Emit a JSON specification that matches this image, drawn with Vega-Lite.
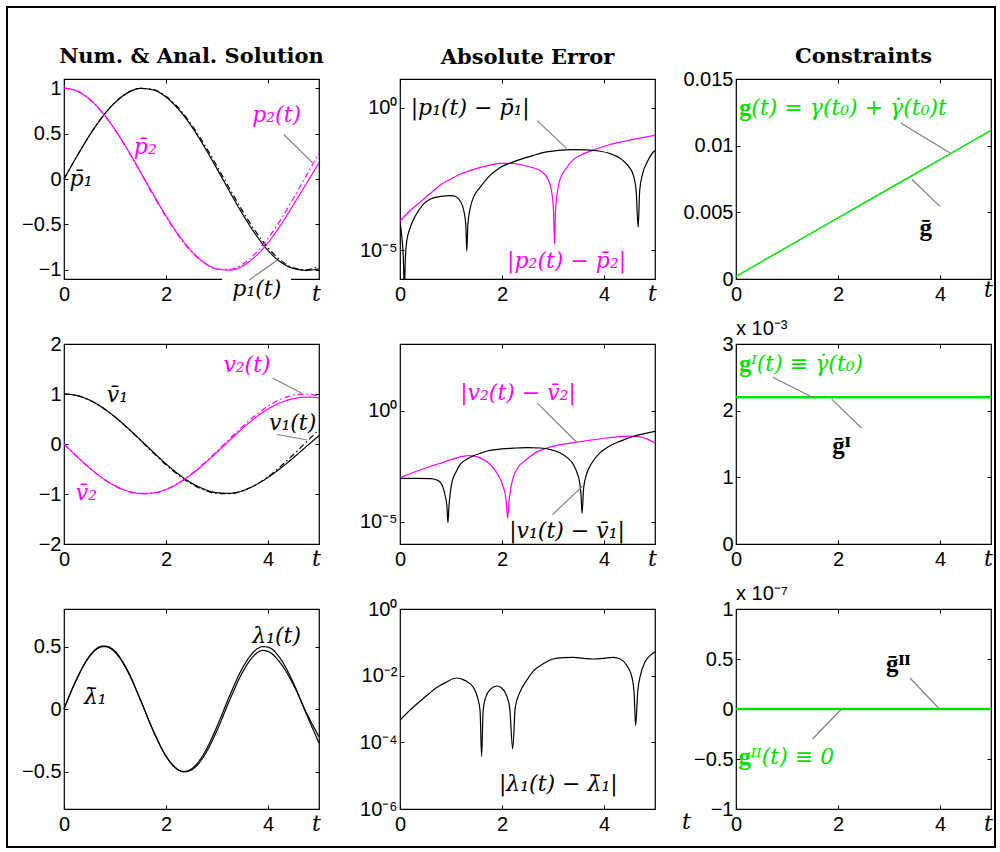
{
"$schema":"https://vega.github.io/schema/vega-lite/v6.json",
"background":"white",
"padding":5,
"columns":3,
"spacing":{"row":65,"column":81},
"bounds":"flush",
"align":"all",
"config":{
 "view":{"stroke":"black","strokeWidth":1.2},
 "axis":{"domain":false,"grid":false,"ticks":true,"tickSize":-4,"tickColor":"black","tickWidth":1,"labelFont":"Liberation Sans","labelFontSize":20,"labelColor":"black","labelFlush":false,"labelOverlap":false,"titleFont":"DejaVu Serif","titleFontStyle":"italic","titleFontWeight":"normal","titleFontSize":22,"titleColor":"black"},
 "axisBottom":{"labelPadding":9,"titleX":252,"titleY":21,"titleAlign":"center","titleBaseline":"alphabetic"},
 "axisLeft":{"labelPadding":7},
 "title":{"font":"DejaVu Serif","fontWeight":"bold","fontSize":21,"color":"black","baseline":"alphabetic","offset":11,"anchor":"middle","frame":"group"},
 "text":{"font":"DejaVu Serif","fontStyle":"italic","fontSize":22,"align":"left","baseline":"middle"}
},
"concat":[
{"width":255,"height":200,
 "title":{"text":"Num. & Anal. Solution"},
 "encoding":{"x":{"field":"t","type":"quantitative","scale":{"domain":[0,5],"nice":false,"zero":false},"axis":null},"y":{"field":"v","type":"quantitative","scale":{"domain":[-1.1,1.1],"nice":false,"zero":false},"axis":null}},
 "layer":[
  {"data":{"values":[{"t":1,"v":0}]},"mark":{"type":"point","opacity":0},"encoding":{"x":{"field":"t","type":"quantitative","scale":{"domain":[0,5],"nice":false,"zero":false},"axis":{"orient":"bottom","values":[0,2],"title":"t"}},"y":{"field":"v","type":"quantitative","scale":{"domain":[-1.1,1.1],"nice":false,"zero":false},"axis":{"orient":"left","values":[-1,-0.5,0,0.5,1],"labelExpr":"format(datum.value,'~g')","title":null}}}},
  {"data":{"values":[{"t":1,"v":0}]},"mark":{"type":"point","opacity":0},"encoding":{"x":{"field":"t","type":"quantitative","scale":{"domain":[0,5],"nice":false,"zero":false},"axis":{"orient":"top","values":[0,2,4],"labels":false,"title":null}},"y":{"field":"v","type":"quantitative","scale":{"domain":[-1.1,1.1],"nice":false,"zero":false},"axis":{"orient":"right","values":[-1,-0.5,0,0.5,1],"labels":false,"title":null}}}},
  {"data":{"values":[{"t":3.1,"t2":4.45,"v":-1.075,"v2":-1.36}]},"mark":{"type":"rect","color":"white"},"encoding":{"x2":{"field":"t2"},"y2":{"field":"v2"}}},
  {"data":{"values":[
   {"t":0,"n1":0,"n2":1,"a1":0,"a2":1},
   {"t":0.25,"n1":0.2474,"n2":0.9694,"a1":0.2474,"a2":0.9689},
   {"t":0.5,"n1":0.479,"n2":0.8786,"a1":0.4794,"a2":0.8776},
   {"t":0.75,"n1":0.6808,"n2":0.7337,"a1":0.6816,"a2":0.7317},
   {"t":1,"n1":0.8407,"n2":0.5438,"a1":0.8415,"a2":0.5403},
   {"t":1.25,"n1":0.9488,"n2":0.3208,"a1":0.949,"a2":0.3153},
   {"t":1.5,"n1":0.9962,"n2":0.0782,"a1":0.9975,"a2":0.0707},
   {"t":1.75,"n1":0.98,"n2":-0.1687,"a1":0.984,"a2":-0.1782},
   {"t":2,"n1":0.9013,"n2":-0.4051,"a1":0.9093,"a2":-0.4161},
   {"t":2.25,"n1":0.7651,"n2":-0.6177,"a1":0.7781,"a2":-0.6282},
   {"t":2.5,"n1":0.5795,"n2":-0.7921,"a1":0.5985,"a2":-0.8011},
   {"t":2.75,"n1":0.3557,"n2":-0.9185,"a1":0.3817,"a2":-0.9243},
   {"t":3,"n1":0.1111,"n2":-0.99,"a1":0.1411,"a2":-0.99},
   {"t":3.25,"n1":-0.1412,"n2":-1.0021,"a1":-0.1082,"a2":-0.9941},
   {"t":3.5,"n1":-0.3848,"n2":-0.9585,"a1":-0.3508,"a2":-0.9365},
   {"t":3.75,"n1":-0.6036,"n2":-0.8536,"a1":-0.5716,"a2":-0.8206},
   {"t":4,"n1":-0.7858,"n2":-0.7006,"a1":-0.7568,"a2":-0.6536},
   {"t":4.25,"n1":-0.915,"n2":-0.5061,"a1":-0.895,"a2":-0.4461},
   {"t":4.5,"n1":-0.9845,"n2":-0.2828,"a1":-0.9775,"a2":-0.2108},
   {"t":4.75,"n1":-1.0043,"n2":-0.0524,"a1":-0.9993,"a2":0.0376},
   {"t":5,"n1":-0.9889,"n2":0.1767,"a1":-0.9589,"a2":0.2837}]},
   "transform":[{"fold":["n1","n2","a1","a2"],"as":["k","v"]}],
   "mark":{"type":"line","interpolate":"monotone","strokeWidth":1.2},
   "encoding":{"color":{"field":"k","type":"nominal","scale":{"domain":["n1","n2","a1","a2"],"range":["black","#ff00ff","black","#ff00ff"]},"legend":null},
    "strokeDash":{"field":"k","type":"nominal","scale":{"domain":["n1","n2","a1","a2"],"range":[[1,0],[1,0],[6,3,1.5,3],[6,3,1.5,3]]},"legend":null}}},
  {"data":{"values":[{"t":4.31,"v":0.49,"t2":4.87,"v2":0.18},{"t":3.63,"v":-1.11,"t2":4.18,"v2":-0.895}]},"mark":{"type":"rule","color":"#808080","strokeWidth":1.2},"encoding":{"x2":{"field":"t2"},"y2":{"field":"v2"}}},
  {"data":{"values":[{"t":0.11,"v":0,"label":"p\u0304\u2081"},{"t":3.3,"v":-1.21,"label":"p\u2081(t)"}]},"mark":{"type":"text","color":"black"},"encoding":{"text":{"field":"label"}}},
  {"data":{"values":[{"t":1.37,"v":0.35,"label":"p\u0304\u2082"},{"t":3.69,"v":0.7,"label":"p\u2082(t)"}]},"mark":{"type":"text","color":"#ff00ff"},"encoding":{"text":{"field":"label"}}}
 ],
 "resolve":{"axis":{"x":"independent","y":"independent"}}
},
{"width":255,"height":200,
 "title":{"text":"Absolute Error"},
 "encoding":{"x":{"field":"t","type":"quantitative","scale":{"domain":[0,5],"nice":false,"zero":false},"axis":null},"y":{"field":"v","type":"quantitative","scale":{"type":"log","domain":[1e-6,10],"nice":false},"axis":null}},
 "layer":[
  {"data":{"values":[{"t":1,"v":0.001}]},"mark":{"type":"point","opacity":0},"encoding":{"x":{"field":"t","type":"quantitative","scale":{"domain":[0,5],"nice":false,"zero":false},"axis":{"orient":"bottom","values":[0,2,4],"title":"t"}},"y":{"field":"v","type":"quantitative","scale":{"type":"log","domain":[1e-6,10],"nice":false},"axis":{"orient":"left","values":[1e-5,1],"labelExpr":"datum.value > 0.1 ? '10\u2070' : '10\u207b\u2075'","title":null}}}},
  {"data":{"values":[{"t":1,"v":0.001}]},"mark":{"type":"point","opacity":0},"encoding":{"x":{"field":"t","type":"quantitative","scale":{"domain":[0,5],"nice":false,"zero":false},"axis":{"orient":"top","values":[0,2,4],"labels":false,"title":null}},"y":{"field":"v","type":"quantitative","scale":{"type":"log","domain":[1e-6,10],"nice":false},"axis":{"orient":"right","values":[1e-5,1],"labels":false,"title":null}}}},
  {"data":{"values":[{"t":0,"v":1.05e-4},{"t":0.2,"v":2.5e-4},{"t":0.4,"v":5e-4},{"t":0.6,"v":1e-3},{"t":0.8,"v":2.04e-3},{"t":1,"v":3.16e-3},{"t":1.2,"v":4.8e-3},{"t":1.45,"v":6.9e-3},{"t":1.7,"v":9.1e-3},{"t":1.98,"v":1.12e-2},{"t":2.2,"v":1.12e-2},{"t":2.37,"v":1e-2},{"t":2.6,"v":7.9e-3},{"t":2.76,"v":6e-3},{"t":2.9,"v":3.16e-3},{"t":2.97,"v":1.26e-3},{"t":3.01,"v":2.5e-4},{"t":3.03,"v":1.7e-5},{"t":3.05,"v":2.5e-4},{"t":3.09,"v":1.26e-3},{"t":3.14,"v":3.16e-3},{"t":3.25,"v":7.1e-3},{"t":3.4,"v":1.51e-2},{"t":3.6,"v":2.4e-2},{"t":3.83,"v":3.47e-2},{"t":4.1,"v":5e-2},{"t":4.4,"v":6.6e-2},{"t":4.7,"v":8.5e-2},{"t":5,"v":0.107}]},
   "mark":{"type":"line","interpolate":"monotone","strokeWidth":1.2,"color":"#ff00ff","clip":true}},
  {"data":{"values":[{"t":0,"v":1e-4},{"t":0.04,"v":2.5e-5},{"t":0.07,"v":3.2e-6},{"t":0.085,"v":1e-7},{"t":0.1,"v":3.2e-6},{"t":0.13,"v":2e-5},{"t":0.2,"v":6.3e-5},{"t":0.3,"v":1.6e-4},{"t":0.46,"v":4.2e-4},{"t":0.6,"v":6.3e-4},{"t":0.8,"v":7.8e-4},{"t":0.99,"v":8.3e-4},{"t":1.1,"v":7.6e-4},{"t":1.18,"v":5.4e-4},{"t":1.25,"v":2.5e-4},{"t":1.29,"v":7.9e-5},{"t":1.31,"v":9.5e-6},{"t":1.33,"v":7.9e-5},{"t":1.38,"v":3.2e-4},{"t":1.45,"v":7.9e-4},{"t":1.57,"v":1.6e-3},{"t":1.75,"v":4e-3},{"t":1.96,"v":7.9e-3},{"t":2.15,"v":1.12e-2},{"t":2.35,"v":1.51e-2},{"t":2.6,"v":2.09e-2},{"t":2.87,"v":2.82e-2},{"t":3.1,"v":3.16e-2},{"t":3.39,"v":3.39e-2},{"t":3.65,"v":3.31e-2},{"t":3.9,"v":3.02e-2},{"t":4.1,"v":2.51e-2},{"t":4.35,"v":1.51e-2},{"t":4.5,"v":7.9e-3},{"t":4.58,"v":4e-3},{"t":4.63,"v":1.26e-3},{"t":4.67,"v":6.5e-5},{"t":4.7,"v":1.26e-3},{"t":4.76,"v":5e-3},{"t":4.85,"v":1.26e-2},{"t":4.98,"v":2.95e-2},{"t":5,"v":3.16e-2}]},
   "mark":{"type":"line","interpolate":"monotone","strokeWidth":1.2,"color":"black","clip":true}},
  {"data":{"values":[{"t":2.69,"v":0.35,"t2":3.27,"v2":0.0366}]},"mark":{"type":"rule","color":"#808080","strokeWidth":1.2},"encoding":{"x2":{"field":"t2"},"y2":{"field":"v2"}}},
  {"data":{"values":[{"t":0.21,"v":1,"label":"|p\u2081(t) \u2212 p\u0304\u2081|"}]},"mark":{"type":"text","color":"black"},"encoding":{"text":{"field":"label"}}},
  {"data":{"values":[{"t":2.1,"v":4.2e-6,"label":"|p\u2082(t) \u2212 p\u0304\u2082|"}]},"mark":{"type":"text","color":"#ff00ff"},"encoding":{"text":{"field":"label"}}}
 ],
 "resolve":{"axis":{"x":"independent","y":"independent"}}
},
{"width":255,"height":200,
 "title":{"text":"Constraints","offset":2},
 "encoding":{"x":{"field":"t","type":"quantitative","scale":{"domain":[0,5],"nice":false,"zero":false},"axis":null},"y":{"field":"v","type":"quantitative","scale":{"domain":[0,0.015],"nice":false,"zero":false},"axis":null}},
 "layer":[
  {"data":{"values":[{"t":1,"v":0.005}]},"mark":{"type":"point","opacity":0},"encoding":{"x":{"field":"t","type":"quantitative","scale":{"domain":[0,5],"nice":false,"zero":false},"axis":{"orient":"bottom","values":[0,2,4],"title":"t","titleY":17}},"y":{"field":"v","type":"quantitative","scale":{"domain":[0,0.015],"nice":false,"zero":false},"axis":{"orient":"left","values":[0,0.005,0.01,0.015],"labelExpr":"format(datum.value,'~g')","title":null}}}},
  {"data":{"values":[{"t":1,"v":0.005}]},"mark":{"type":"point","opacity":0},"encoding":{"x":{"field":"t","type":"quantitative","scale":{"domain":[0,5],"nice":false,"zero":false},"axis":{"orient":"top","values":[0,2,4],"labels":false,"title":null}},"y":{"field":"v","type":"quantitative","scale":{"domain":[0,0.015],"nice":false,"zero":false},"axis":{"orient":"right","values":[0,0.005,0.01,0.015],"labels":false,"title":null}}}},
  {"data":{"values":[{"t":0,"v":0.0002},{"t":1,"v":0.00239},{"t":2,"v":0.00458},{"t":3,"v":0.00677},{"t":4,"v":0.00896},{"t":5,"v":0.01115}]},"mark":{"type":"line","strokeWidth":1.5,"color":"#00e000"}},
  {"data":{"values":[{"t":3.23,"v":0.0117,"t2":4.2,"v2":0.00945},{"t":3.45,"v":0.00746,"t2":4.0,"v2":0.00545}]},"mark":{"type":"rule","color":"#808080","strokeWidth":1.2},"encoding":{"x2":{"field":"t2"},"y2":{"field":"v2"}}},
  {"data":{"values":[{"t":0.06,"v":0.01283,"label":"g"}]},"mark":{"type":"text","color":"#00e000","font":"Liberation Serif","fontSize":25,"fontStyle":"normal","fontWeight":"bold"},"encoding":{"text":{"field":"label"}}},
  {"data":{"values":[{"t":0.3,"v":0.01283,"label":"(t) = \u03b3(t\u2080) + \u03b3\u0307(t\u2080)t"}]},"mark":{"type":"text","color":"#00e000"},"encoding":{"text":{"field":"label"}}},
  {"data":{"values":[{"t":3.72,"v":0.00383,"label":"\u1e21"}]},"mark":{"type":"text","color":"black","font":"Liberation Serif","fontSize":25,"fontStyle":"normal","fontWeight":"bold","align":"center"},"encoding":{"text":{"field":"label"}}}
 ],
 "resolve":{"axis":{"x":"independent","y":"independent"}}
},
{"width":255,"height":200,
 "encoding":{"x":{"field":"t","type":"quantitative","scale":{"domain":[0,5],"nice":false,"zero":false},"axis":null},"y":{"field":"v","type":"quantitative","scale":{"domain":[-2,2],"nice":false,"zero":false},"axis":null}},
 "layer":[
  {"data":{"values":[{"t":1,"v":0}]},"mark":{"type":"point","opacity":0},"encoding":{"x":{"field":"t","type":"quantitative","scale":{"domain":[0,5],"nice":false,"zero":false},"axis":{"orient":"bottom","values":[0,2,4],"title":"t"}},"y":{"field":"v","type":"quantitative","scale":{"domain":[-2,2],"nice":false,"zero":false},"axis":{"orient":"left","values":[-2,-1,0,1,2],"labelExpr":"format(datum.value,'~g')","title":null}}}},
  {"data":{"values":[{"t":1,"v":0}]},"mark":{"type":"point","opacity":0},"encoding":{"x":{"field":"t","type":"quantitative","scale":{"domain":[0,5],"nice":false,"zero":false},"axis":{"orient":"top","values":[0,2,4],"labels":false,"title":null}},"y":{"field":"v","type":"quantitative","scale":{"domain":[-2,2],"nice":false,"zero":false},"axis":{"orient":"right","values":[-2,-1,0,1,2],"labels":false,"title":null}}}},
  {"data":{"values":[
   {"t":0,"n1":1.0009,"n2":0.0009,"a1":1,"a2":0},
   {"t":0.25,"n1":0.9698,"n2":-0.2458,"a1":0.9689,"a2":-0.2474},
   {"t":0.5,"n1":0.8785,"n2":-0.4769,"a1":0.8776,"a2":-0.4794},
   {"t":0.75,"n1":0.7324,"n2":-0.6776,"a1":0.7317,"a2":-0.6816},
   {"t":1,"n1":0.5408,"n2":-0.8352,"a1":0.5403,"a2":-0.8415},
   {"t":1.25,"n1":0.3203,"n2":-0.9401,"a1":0.3153,"a2":-0.949},
   {"t":1.5,"n1":0.0807,"n2":-0.9886,"a1":0.0707,"a2":-0.9975},
   {"t":1.75,"n1":-0.1622,"n2":-0.98,"a1":-0.1782,"a2":-0.984},
   {"t":2,"n1":-0.3971,"n2":-0.9088,"a1":-0.4161,"a2":-0.9093},
   {"t":2.25,"n1":-0.6072,"n2":-0.7794,"a1":-0.6282,"a2":-0.7781},
   {"t":2.5,"n1":-0.7801,"n2":-0.6048,"a1":-0.8011,"a2":-0.5985},
   {"t":2.75,"n1":-0.9033,"n2":-0.3977,"a1":-0.9243,"a2":-0.3817},
   {"t":3,"n1":-0.974,"n2":-0.1651,"a1":-0.99,"a2":-0.1411},
   {"t":3.25,"n1":-0.9861,"n2":0.0762,"a1":-0.9941,"a2":0.1082},
   {"t":3.5,"n1":-0.9362,"n2":0.3108,"a1":-0.9365,"a2":0.3508},
   {"t":3.75,"n1":-0.8236,"n2":0.5246,"a1":-0.8206,"a2":0.5716},
   {"t":4,"n1":-0.6696,"n2":0.7008,"a1":-0.6536,"a2":0.7568},
   {"t":4.25,"n1":-0.4811,"n2":0.829,"a1":-0.4461,"a2":0.895},
   {"t":4.5,"n1":-0.2738,"n2":0.9055,"a1":-0.2108,"a2":0.9775},
   {"t":4.75,"n1":-0.0514,"n2":0.9393,"a1":0.0376,"a2":0.9993},
   {"t":5,"n1":0.1667,"n2":0.9229,"a1":0.2837,"a2":0.9589}]},
   "transform":[{"fold":["n1","n2","a1","a2"],"as":["k","v"]}],
   "mark":{"type":"line","interpolate":"monotone","strokeWidth":1.2},
   "encoding":{"color":{"field":"k","type":"nominal","scale":{"domain":["n1","n2","a1","a2"],"range":["black","#ff00ff","black","#ff00ff"]},"legend":null},
    "strokeDash":{"field":"k","type":"nominal","scale":{"domain":["n1","n2","a1","a2"],"range":[[1,0],[1,0],[6,3,1.5,3],[6,3,1.5,3]]},"legend":null}}},
  {"data":{"values":[{"t":4.09,"v":1.32,"t2":4.67,"v2":1.01},{"t":4.18,"v":0.19,"t2":4.77,"v2":0.08}]},"mark":{"type":"rule","color":"#808080","strokeWidth":1.2},"encoding":{"x2":{"field":"t2"},"y2":{"field":"v2"}}},
  {"data":{"values":[{"t":0.84,"v":0.99,"label":"v\u0304\u2081"},{"t":4.02,"v":0.42,"label":"v\u2081(t)"}]},"mark":{"type":"text","color":"black"},"encoding":{"text":{"field":"label"}}},
  {"data":{"values":[{"t":3.125,"v":1.59,"label":"v\u2082(t)"},{"t":0.23,"v":-0.98,"label":"v\u0304\u2082"}]},"mark":{"type":"text","color":"#ff00ff"},"encoding":{"text":{"field":"label"}}}
 ],
 "resolve":{"axis":{"x":"independent","y":"independent"}}
},
{"width":255,"height":200,
 "encoding":{"x":{"field":"t","type":"quantitative","scale":{"domain":[0,5],"nice":false,"zero":false},"axis":null},"y":{"field":"v","type":"quantitative","scale":{"type":"log","domain":[1e-6,1000],"nice":false},"axis":null}},
 "layer":[
  {"data":{"values":[{"t":1,"v":0.001}]},"mark":{"type":"point","opacity":0},"encoding":{"x":{"field":"t","type":"quantitative","scale":{"domain":[0,5],"nice":false,"zero":false},"axis":{"orient":"bottom","values":[0,2,4],"title":"t"}},"y":{"field":"v","type":"quantitative","scale":{"type":"log","domain":[1e-6,1000],"nice":false},"axis":{"orient":"left","values":[1e-5,1],"labelExpr":"datum.value > 0.1 ? '10\u2070' : '10\u207b\u2075'","title":null}}}},
  {"data":{"values":[{"t":1,"v":0.001}]},"mark":{"type":"point","opacity":0},"encoding":{"x":{"field":"t","type":"quantitative","scale":{"domain":[0,5],"nice":false,"zero":false},"axis":{"orient":"top","values":[0,2,4],"labels":false,"title":null}},"y":{"field":"v","type":"quantitative","scale":{"type":"log","domain":[1e-6,1000],"nice":false},"axis":{"orient":"right","values":[1e-5,1],"labels":false,"title":null}}}},
  {"data":{"values":[{"t":0,"v":9.5e-4},{"t":0.3,"v":1.78e-3},{"t":0.6,"v":3.16e-3},{"t":0.78,"v":4.2e-3},{"t":1,"v":6.3e-3},{"t":1.2,"v":8.5e-3},{"t":1.37,"v":9.5e-3},{"t":1.55,"v":7.9e-3},{"t":1.76,"v":4e-3},{"t":1.9,"v":1.58e-3},{"t":2.03,"v":3.4e-4},{"t":2.08,"v":1e-4},{"t":2.11,"v":1.5e-5},{"t":2.14,"v":1e-4},{"t":2.18,"v":4e-4},{"t":2.22,"v":1e-3},{"t":2.3,"v":2.5e-3},{"t":2.48,"v":6.3e-3},{"t":2.65,"v":1.26e-2},{"t":2.88,"v":2.09e-2},{"t":3.1,"v":2.82e-2},{"t":3.4,"v":3.63e-2},{"t":3.7,"v":4.57e-2},{"t":4.05,"v":5.9e-2},{"t":4.3,"v":6.8e-2},{"t":4.51,"v":7.2e-2},{"t":4.7,"v":6.6e-2},{"t":4.85,"v":5.25e-2},{"t":5,"v":3.55e-2}]},
   "mark":{"type":"line","interpolate":"monotone","strokeWidth":1.2,"color":"#ff00ff","clip":true}},
  {"data":{"values":[{"t":0,"v":8.9e-4},{"t":0.3,"v":8.9e-4},{"t":0.6,"v":8.7e-4},{"t":0.72,"v":7.6e-4},{"t":0.8,"v":5.6e-4},{"t":0.88,"v":1.7e-4},{"t":0.92,"v":5e-5},{"t":0.94,"v":9.1e-6},{"t":0.96,"v":5e-5},{"t":1.02,"v":6.3e-4},{"t":1.1,"v":1.78e-3},{"t":1.18,"v":3.8e-3},{"t":1.3,"v":6.3e-3},{"t":1.44,"v":9.3e-3},{"t":1.6,"v":1.26e-2},{"t":1.76,"v":1.62e-2},{"t":2,"v":1.91e-2},{"t":2.29,"v":2.09e-2},{"t":2.5,"v":2.19e-2},{"t":2.75,"v":2.09e-2},{"t":2.95,"v":1.78e-2},{"t":3.14,"v":1.26e-2},{"t":3.3,"v":7.1e-3},{"t":3.4,"v":3.8e-3},{"t":3.48,"v":1.41e-3},{"t":3.52,"v":6.3e-4},{"t":3.55,"v":1.58e-4},{"t":3.57,"v":2.4e-5},{"t":3.6,"v":3.2e-4},{"t":3.66,"v":1.41e-3},{"t":3.75,"v":4e-3},{"t":3.92,"v":1.26e-2},{"t":4.1,"v":2.51e-2},{"t":4.31,"v":4.17e-2},{"t":4.57,"v":6.9e-2},{"t":4.8,"v":9.3e-2},{"t":5,"v":0.117}]},
   "mark":{"type":"line","interpolate":"monotone","strokeWidth":1.2,"color":"black","clip":true}},
  {"data":{"values":[{"t":2.69,"v":2.2,"t2":3.48,"v2":0.035},{"t":2.99,"v":2.1e-5,"t2":3.58,"v2":4e-4}]},"mark":{"type":"rule","color":"#808080","strokeWidth":1.2},"encoding":{"x2":{"field":"t2"},"y2":{"field":"v2"}}},
  {"data":{"values":[{"t":1.18,"v":6.2,"label":"|v\u2082(t) \u2212 v\u0304\u2082|"}]},"mark":{"type":"text","color":"#ff00ff"},"encoding":{"text":{"field":"label"}}},
  {"data":{"values":[{"t":2.14,"v":3.7e-6,"label":"|v\u2081(t) \u2212 v\u0304\u2081|"}]},"mark":{"type":"text","color":"black"},"encoding":{"text":{"field":"label"}}}
 ],
 "resolve":{"axis":{"x":"independent","y":"independent"}}
},
{"width":255,"height":200,
 "title":{"text":"x 10\u207b\u00b3","anchor":"start","font":"Liberation Sans","fontWeight":"normal","fontSize":20,"offset":-5},
 "encoding":{"x":{"field":"t","type":"quantitative","scale":{"domain":[0,5],"nice":false,"zero":false},"axis":null},"y":{"field":"v","type":"quantitative","scale":{"domain":[0,0.003],"nice":false,"zero":false},"axis":null}},
 "layer":[
  {"data":{"values":[{"t":1,"v":0.001}]},"mark":{"type":"point","opacity":0},"encoding":{"x":{"field":"t","type":"quantitative","scale":{"domain":[0,5],"nice":false,"zero":false},"axis":{"orient":"bottom","values":[0,2,4],"title":"t"}},"y":{"field":"v","type":"quantitative","scale":{"domain":[0,0.003],"nice":false,"zero":false},"axis":{"orient":"left","values":[0,0.001,0.002,0.003],"labelExpr":"format(datum.value*1000,'~g')","title":null}}}},
  {"data":{"values":[{"t":1,"v":0.001}]},"mark":{"type":"point","opacity":0},"encoding":{"x":{"field":"t","type":"quantitative","scale":{"domain":[0,5],"nice":false,"zero":false},"axis":{"orient":"top","values":[0,2,4],"labels":false,"title":null}},"y":{"field":"v","type":"quantitative","scale":{"domain":[0,0.003],"nice":false,"zero":false},"axis":{"orient":"right","values":[0,0.001,0.002,0.003],"labels":false,"title":null}}}},
  {"data":{"values":[{"t":0,"v":0.0022},{"t":2.5,"v":0.0022},{"t":5,"v":0.0022}]},"mark":{"type":"line","strokeWidth":2.5,"color":"#00e000"}},
  {"data":{"values":[{"t":0.72,"v":0.0025,"t2":1.5,"v2":0.0022},{"t":1.88,"v":0.00217,"t2":2.46,"v2":0.00174}]},"mark":{"type":"rule","color":"#808080","strokeWidth":1.2},"encoding":{"x2":{"field":"t2"},"y2":{"field":"v2"}}},
  {"data":{"values":[{"t":0.06,"v":0.0027,"label":"g"}]},"mark":{"type":"text","color":"#00e000","font":"Liberation Serif","fontSize":25,"fontStyle":"normal","fontWeight":"bold"},"encoding":{"text":{"field":"label"}}},
  {"data":{"values":[{"t":0.3,"v":0.0027,"label":"\u1d35(t) \u2261 \u03b3\u0307(t\u2080)"}]},"mark":{"type":"text","color":"#00e000"},"encoding":{"text":{"field":"label"}}},
  {"data":{"values":[{"t":2.07,"v":0.00147,"label":"\u1e21\u1d35"}]},"mark":{"type":"text","color":"black","font":"Liberation Serif","fontSize":25,"fontStyle":"normal","fontWeight":"bold","align":"center"},"encoding":{"text":{"field":"label"}}}
 ],
 "resolve":{"axis":{"x":"independent","y":"independent"}}
},
{"width":255,"height":200,
 "encoding":{"x":{"field":"t","type":"quantitative","scale":{"domain":[0,5],"nice":false,"zero":false},"axis":null},"y":{"field":"v","type":"quantitative","scale":{"domain":[-0.8,0.8],"nice":false,"zero":false},"axis":null}},
 "layer":[
  {"data":{"values":[{"t":1,"v":0}]},"mark":{"type":"point","opacity":0},"encoding":{"x":{"field":"t","type":"quantitative","scale":{"domain":[0,5],"nice":false,"zero":false},"axis":{"orient":"bottom","values":[0,2,4],"title":"t"}},"y":{"field":"v","type":"quantitative","scale":{"domain":[-0.8,0.8],"nice":false,"zero":false},"axis":{"orient":"left","values":[-0.5,0,0.5],"labelExpr":"format(datum.value,'~g')","title":null}}}},
  {"data":{"values":[{"t":1,"v":0}]},"mark":{"type":"point","opacity":0},"encoding":{"x":{"field":"t","type":"quantitative","scale":{"domain":[0,5],"nice":false,"zero":false},"axis":{"orient":"top","values":[0,2,4],"labels":false,"title":null}},"y":{"field":"v","type":"quantitative","scale":{"domain":[-0.8,0.8],"nice":false,"zero":false},"axis":{"orient":"right","values":[-0.5,0,0.5],"labels":false,"title":null}}}},
  {"data":{"values":[
   {"t":0,"n":0.0005,"a":0},
   {"t":0.25,"n":0.2408,"a":0.2397},
   {"t":0.5,"n":0.4229,"a":0.4207},
   {"t":0.75,"n":0.5029,"a":0.4987},
   {"t":0.8,"n":0.5035,"a":0.4998},
   {"t":1,"n":0.4622,"a":0.4546},
   {"t":1.25,"n":0.3063,"a":0.2992},
   {"t":1.5,"n":0.0731,"a":0.0706},
   {"t":1.75,"n":-0.1722,"a":-0.1754},
   {"t":2,"n":-0.3749,"a":-0.3784},
   {"t":2.25,"n":-0.4893,"a":-0.4888},
   {"t":2.35,"n":-0.503,"a":-0.5},
   {"t":2.5,"n":-0.4875,"a":-0.4795},
   {"t":2.75,"n":-0.3728,"a":-0.3528},
   {"t":3,"n":-0.1717,"a":-0.1397},
   {"t":3.25,"n":0.0727,"a":0.1077},
   {"t":3.5,"n":0.2935,"a":0.3285},
   {"t":3.75,"n":0.437,"a":0.469},
   {"t":3.9,"n":0.4683,"a":0.4993},
   {"t":4,"n":0.4607,"a":0.4947},
   {"t":4.25,"n":0.3642,"a":0.3992},
   {"t":4.5,"n":0.1935,"a":0.2061},
   {"t":4.75,"n":-0.0276,"a":-0.0376},
   {"t":5,"n":-0.222,"a":-0.272}]},
   "transform":[{"fold":["n","a"],"as":["k","v"]}],
   "mark":{"type":"line","interpolate":"monotone","strokeWidth":1.2,"color":"black"},
   "encoding":{"strokeDash":{"field":"k","type":"nominal","scale":{"domain":["n","a"],"range":[[1,0],[6,3,1.5,3]]},"legend":null}}},
  {"data":{"values":[{"t":0.39,"v":0.093,"label":"\u03bb\u0304\u2081"},{"t":3.69,"v":0.586,"label":"\u03bb\u2081(t)"}]},"mark":{"type":"text","color":"black"},"encoding":{"text":{"field":"label"}}},
  {"data":{"values":[{"t":-1.1176,"t2":18.2549,"v":5.616,"v2":-1.104}]},"mark":{"type":"rect","filled":false,"color":"black","strokeWidth":2},"encoding":{"x2":{"field":"t2"},"y2":{"field":"v2"}}}
 ],
 "resolve":{"axis":{"x":"independent","y":"independent"}}
},
{"width":255,"height":200,
 "encoding":{"x":{"field":"t","type":"quantitative","scale":{"domain":[0,5],"nice":false,"zero":false},"axis":null},"y":{"field":"v","type":"quantitative","scale":{"type":"log","domain":[1e-6,1],"nice":false},"axis":null}},
 "layer":[
  {"data":{"values":[{"t":1,"v":0.001}]},"mark":{"type":"point","opacity":0},"encoding":{"x":{"field":"t","type":"quantitative","scale":{"domain":[0,5],"nice":false,"zero":false},"axis":{"orient":"bottom","values":[0,2,4],"title":null}},"y":{"field":"v","type":"quantitative","scale":{"type":"log","domain":[1e-6,1],"nice":false},"axis":{"orient":"left","values":[1e-6,1e-4,1e-2,1],"labelExpr":"datum.value > 0.1 ? '10\u2070' : datum.value > 1e-3 ? '10\u207b\u00b2' : datum.value > 1e-5 ? '10\u207b\u2074' : '10\u207b\u2076'","title":null}}}},
  {"data":{"values":[{"t":1,"v":0.001}]},"mark":{"type":"point","opacity":0},"encoding":{"x":{"field":"t","type":"quantitative","scale":{"domain":[0,5],"nice":false,"zero":false},"axis":{"orient":"top","values":[0,2,4],"labels":false,"title":null}},"y":{"field":"v","type":"quantitative","scale":{"type":"log","domain":[1e-6,1],"nice":false},"axis":{"orient":"right","values":[1e-6,1e-4,1e-2,1],"labels":false,"title":null}}}},
  {"data":{"values":[{"t":0,"v":4.6e-4},{"t":0.15,"v":7.9e-4},{"t":0.33,"v":1.41e-3},{"t":0.52,"v":2.5e-3},{"t":0.72,"v":4.4e-3},{"t":0.9,"v":6.3e-3},{"t":1.11,"v":8.5e-3},{"t":1.28,"v":7.1e-3},{"t":1.44,"v":4.4e-3},{"t":1.52,"v":2.24e-3},{"t":1.57,"v":8.9e-4},{"t":1.6,"v":3.8e-5},{"t":1.63,"v":8.9e-4},{"t":1.68,"v":2.24e-3},{"t":1.78,"v":4e-3},{"t":1.9,"v":4.9e-3},{"t":2,"v":4.2e-3},{"t":2.09,"v":2.5e-3},{"t":2.15,"v":1.12e-3},{"t":2.21,"v":6.3e-5},{"t":2.26,"v":1.12e-3},{"t":2.35,"v":3.16e-3},{"t":2.48,"v":7.1e-3},{"t":2.61,"v":1.35e-2},{"t":2.8,"v":2.24e-2},{"t":3,"v":3.16e-2},{"t":3.2,"v":3.47e-2},{"t":3.4,"v":3.55e-2},{"t":3.6,"v":3.31e-2},{"t":3.79,"v":3.16e-2},{"t":4,"v":3.31e-2},{"t":4.18,"v":3.55e-2},{"t":4.32,"v":3.16e-2},{"t":4.44,"v":2.09e-2},{"t":4.54,"v":1e-2},{"t":4.59,"v":3.16e-3},{"t":4.62,"v":3.2e-4},{"t":4.66,"v":3.16e-3},{"t":4.72,"v":1.12e-2},{"t":4.8,"v":2.51e-2},{"t":4.9,"v":3.98e-2},{"t":5,"v":5.25e-2}]},
   "mark":{"type":"line","interpolate":"monotone","strokeWidth":1.2,"color":"black","clip":true}},
  {"data":{"values":[{"t":1.94,"v":5.6e-6,"label":"|\u03bb\u2081(t) \u2212 \u03bb\u0304\u2081|"}]},"mark":{"type":"text","color":"black"},"encoding":{"text":{"field":"label"}}}
 ],
 "resolve":{"axis":{"x":"independent","y":"independent"}}
},
{"width":255,"height":200,
 "title":{"text":"x 10\u207b\u2077","anchor":"start","font":"Liberation Sans","fontWeight":"normal","fontSize":20,"offset":-5},
 "encoding":{"x":{"field":"t","type":"quantitative","scale":{"domain":[0,5],"nice":false,"zero":false},"axis":null},"y":{"field":"v","type":"quantitative","scale":{"domain":[-1e-7,1e-7],"nice":false,"zero":false},"axis":null}},
 "layer":[
  {"data":{"values":[{"t":1,"v":0}]},"mark":{"type":"point","opacity":0},"encoding":{"x":{"field":"t","type":"quantitative","scale":{"domain":[0,5],"nice":false,"zero":false},"axis":{"orient":"bottom","values":[0,2,4],"title":"t"}},"y":{"field":"v","type":"quantitative","scale":{"domain":[-1e-7,1e-7],"nice":false,"zero":false},"axis":{"orient":"left","values":[-1e-7,-5e-8,0,5e-8,1e-7],"labelExpr":"format(datum.value*1e7,'.1~f')","title":null}}}},
  {"data":{"values":[{"t":1,"v":0}]},"mark":{"type":"point","opacity":0},"encoding":{"x":{"field":"t","type":"quantitative","scale":{"domain":[0,5],"nice":false,"zero":false},"axis":{"orient":"top","values":[0,2,4],"labels":false,"title":null}},"y":{"field":"v","type":"quantitative","scale":{"domain":[-1e-7,1e-7],"nice":false,"zero":false},"axis":{"orient":"right","values":[-1e-7,-5e-8,0,5e-8,1e-7],"labels":false,"title":null}}}},
  {"data":{"values":[{"t":0,"v":0},{"t":2.5,"v":0},{"t":5,"v":0}]},"mark":{"type":"line","strokeWidth":2.5,"color":"#00e000"}},
  {"data":{"values":[{"t":3.41,"v":3.1e-8,"t2":3.99,"v2":0},{"t":1.5,"v":-3e-8,"t2":2.07,"v2":0}]},"mark":{"type":"rule","color":"#808080","strokeWidth":1.2},"encoding":{"x2":{"field":"t2"},"y2":{"field":"v2"}}},
  {"data":{"values":[{"t":3.18,"v":4.5e-8,"label":"\u1e21\u1d35\u1d35"}]},"mark":{"type":"text","color":"black","font":"Liberation Serif","fontSize":25,"fontStyle":"normal","fontWeight":"bold","align":"center"},"encoding":{"text":{"field":"label"}}},
  {"data":{"values":[{"t":0.05,"v":-4.84e-8,"label":"g"}]},"mark":{"type":"text","color":"#00e000","font":"Liberation Serif","fontSize":25,"fontStyle":"normal","fontWeight":"bold"},"encoding":{"text":{"field":"label"}}},
  {"data":{"values":[{"t":0.29,"v":-4.84e-8,"label":"\u1d35\u1d35(t) \u2261 0"}]},"mark":{"type":"text","color":"#00e000"},"encoding":{"text":{"field":"label"}}},
  {"data":{"values":[{"t":-0.97,"v":-1.13e-7,"label":"t"}]},"mark":{"type":"text","color":"black","align":"center"},"encoding":{"text":{"field":"label"}}}
 ],
 "resolve":{"axis":{"x":"independent","y":"independent"}}
}
]
}
